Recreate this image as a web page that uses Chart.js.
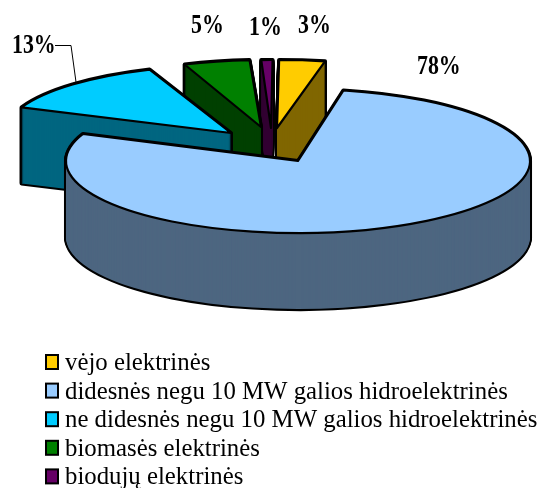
<!DOCTYPE html>
<html><head><meta charset="utf-8">
<style>html,body{margin:0;padding:0;background:#fff}canvas{display:block}</style>
<script src="https://cdn.jsdelivr.net/npm/chart.js@4"></script>
</head><body>
<canvas id="c" width="539" height="488"></canvas>
<script>
const categories = ["vėjo elektrinės","didesnės negu 10 MW galios hidroelektrinės","ne didesnės negu 10 MW galios hidroelektrinės","biomasės elektrinės","biodujų elektrinės"];
const shares = [3,78,13,5,1];
const topColors = ["#FFCC00","#99CCFF","#00CCFF","#008000","#660066"];
const wallColors = ["#806600","#4D6680","#006680","#004000","#330033"];
// placement of each exploded slice on the page (style, not data)
const apexX = [277,298,231,261,271];
const apexY = [128,161,133,127,128];
const radiusX = [245,232,226,212,180];
const radiusY = [68,72,68,67,68];
const depth = 76;
const paintOrder = [0,4,3,2,1];
const labelX = [298,417,12,191,249];
const labelY = [33,74,53,33,35];
const FONT = '"Liberation Serif","Times New Roman",serif';

function slicePath(ctx,a,i,dy){
  ctx.beginPath();
  ctx.moveTo(apexX[i],apexY[i]+dy);
  ctx.ellipse(apexX[i],apexY[i]+dy,radiusX[i],radiusY[i],0,a.startAngle,a.endAngle);
  ctx.closePath();
}
const pie3d = {
  id:'pie3d',
  beforeDatasetDraw(chart,args){
    const ctx = chart.ctx, arcs = chart.getDatasetMeta(args.index).data;
    ctx.save();
    ctx.lineJoin = 'round';
    paintOrder.forEach(i=>{
      const a = arcs[i];
      // swept side wall: black silhouette first, wall colour on top
      ctx.strokeStyle = '#000'; ctx.lineWidth = 4;
      for(let d=depth;d>=0;d--){ slicePath(ctx,a,i,d); ctx.stroke(); }
      ctx.fillStyle = wallColors[i];
      for(let d=depth;d>=0;d--){ slicePath(ctx,a,i,d); ctx.fill(); }
      // top face, through the library's arc element
      ctx.save();
      ctx.translate(apexX[i],apexY[i]);
      ctx.scale(radiusX[i]/a.outerRadius,radiusY[i]/a.outerRadius);
      ctx.translate(-a.x,-a.y);
      a.draw(ctx);
      ctx.restore();
      ctx.strokeStyle = '#000'; ctx.lineWidth = 2.2;
      slicePath(ctx,a,i,0); ctx.stroke();
    });
    ctx.restore();
    return false;
  },
  afterDraw(chart){
    const ctx = chart.ctx;
    ctx.save();
    // leader of the 13% label
    ctx.strokeStyle = '#000'; ctx.lineWidth = 1;
    ctx.beginPath(); ctx.moveTo(55,45.5); ctx.lineTo(71,45.5); ctx.lineTo(76,82); ctx.stroke();
    // value labels
    ctx.fillStyle = '#000'; ctx.textBaseline = 'alphabetic'; ctx.textAlign = 'left';
    ctx.font = 'bold 27px '+FONT;
    shares.forEach((v,i)=>{
      ctx.save();
      ctx.translate(labelX[i],labelY[i]);
      ctx.scale(0.81,1);
      ctx.fillText(v+'%',0,0);
      ctx.restore();
    });
    // legend
    ctx.font = '24.8px '+FONT;
    categories.forEach((t,i)=>{
      const y = 370+i*28.6;
      ctx.fillStyle = topColors[i]; ctx.fillRect(46,y-15,12,14);
      ctx.strokeStyle = '#000'; ctx.lineWidth = 2; ctx.strokeRect(46,y-15,12,14);
      ctx.fillStyle = '#000'; ctx.fillText(t,65,y);
    });
    ctx.restore();
  }
};
new Chart(document.getElementById('c'),{
  type:'pie',
  data:{labels:categories,datasets:[{data:shares,backgroundColor:topColors,borderWidth:0}]},
  options:{
    responsive:false,animation:false,rotation:0.5,
    plugins:{legend:{display:false},tooltip:{enabled:false}}
  },
  plugins:[pie3d]
});
</script>
</body></html>
